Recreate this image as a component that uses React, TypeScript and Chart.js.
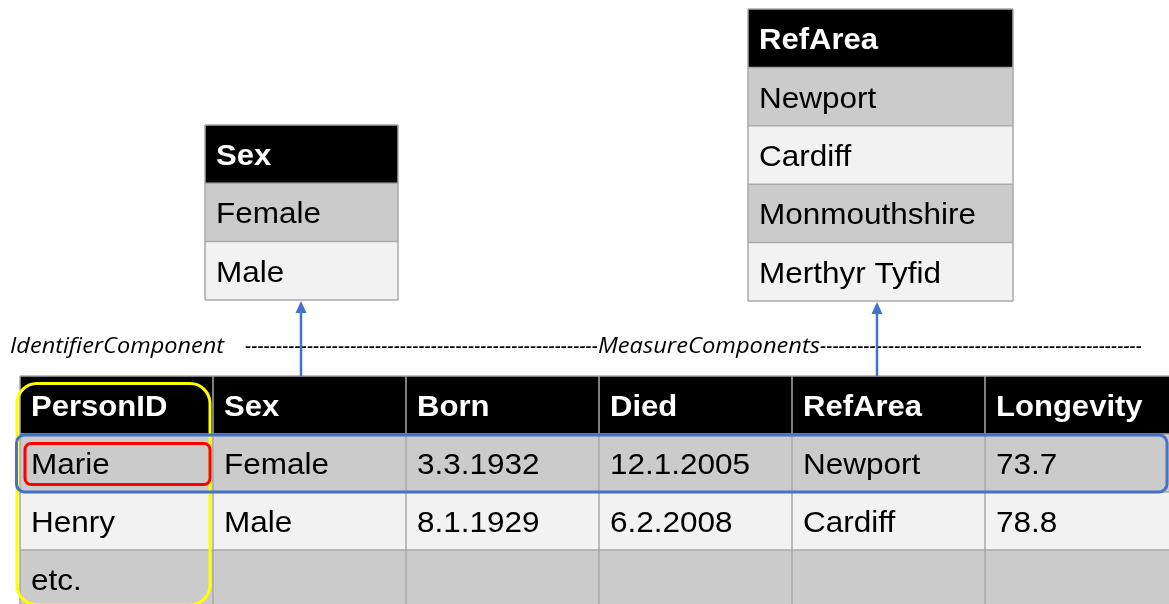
import React, { useEffect, useRef } from 'react';
import { Chart, registerables } from 'chart.js';

Chart.register(...registerables);

const W = 1169;
const H = 604;

// ---- Data ----
const mainColumns = ['PersonID', 'Sex', 'Born', 'Died', 'RefArea', 'Longevity'];
const personIds = ['Marie', 'Henry', 'etc.'];
const sexValues = ['Female', 'Male', ''];
const bornDates = ['3.3.1932', '8.1.1929', ''];
const diedDates = ['12.1.2005', '6.2.2008', ''];
const refAreaValues = ['Newport', 'Cardiff', ''];
const longevityValues = ['73.7', '78.8', ''];

const sexCodelistTitle = 'Sex';
const sexCodes = ['Female', 'Male'];
const refAreaCodelistTitle = 'RefArea';
const refAreaCodes = ['Newport', 'Cardiff', 'Monmouthshire', 'Merthyr Tyfid'];

const identifierLabel = 'IdentifierComponent';
const measureLabel = 'MeasureComponents';

// ---- Layout (positions in scale units) ----
const MAIN = { x: 20, y: 376, colW: 193, rowH: 58 };
const SEX = { x: 205, y: 125, colW: 193, rowH: 58.3 };
const REF = { x: 748, y: 9, colW: 265, rowH: 58.4 };
const ANNOT = { baseline: 353, idX: 10, idW: 214, dash1: [245, 598], mcX: 598, mcW: 222, dash2: [820, 1142] };

const HEADER_FILL = '#000000';
const ROW_FILLS = ['#cbcbcb', '#f2f2f2'];
const GRID = '#a9a9a9';
const BLUE = '#4472c4';
const FONT_FAMILY = '"Liberation Sans", Arial, sans-serif';
const ITALIC_FONT = '"Open Sans", sans-serif';

const tablePlugin = {
  id: 'tableDiagram',
  afterDraw(chart: any) {
    const ctx: CanvasRenderingContext2D = chart.ctx;
    const xs = chart.scales.x;
    const ys = chart.scales.y;
    const X = (v: number) => xs.getPixelForValue(v);
    const Y = (v: number) => ys.getPixelForValue(v);

    const stretchText = (txt: string, x: number, y: number, sx: number) => {
      ctx.save();
      ctx.translate(x, y);
      ctx.scale(sx, 1);
      ctx.fillText(txt, 0, 0);
      ctx.restore();
    };

    const drawTable = (
      t: { x: number; y: number; colW: number; rowH: number },
      headers: string[],
      rows: string[][],
    ) => {
      const nCols = headers.length;
      const nRows = rows.length + 1;
      for (let r = 0; r < nRows; r++) {
        const y0 = Y(t.y + r * t.rowH);
        const y1 = Y(t.y + (r + 1) * t.rowH);
        ctx.fillStyle = r === 0 ? HEADER_FILL : ROW_FILLS[(r - 1) % 2];
        ctx.fillRect(X(t.x), y0, X(t.x + nCols * t.colW) - X(t.x), y1 - y0);
      }
      ctx.strokeStyle = GRID;
      ctx.lineWidth = 1.5;
      for (let r = 0; r <= nRows; r++) {
        const yy = Y(t.y + r * t.rowH);
        ctx.beginPath();
        ctx.moveTo(X(t.x), yy);
        ctx.lineTo(X(t.x + nCols * t.colW), yy);
        ctx.stroke();
      }
      for (let c = 0; c <= nCols; c++) {
        const xx = X(t.x + c * t.colW);
        ctx.beginPath();
        ctx.moveTo(xx, Y(t.y));
        ctx.lineTo(xx, Y(t.y + nRows * t.rowH));
        ctx.stroke();
      }
      ctx.textAlign = 'left';
      ctx.textBaseline = 'alphabetic';
      for (let r = 0; r < nRows; r++) {
        const cells = r === 0 ? headers : rows[r - 1];
        const mid = Y(t.y + (r + 0.5) * t.rowH);
        for (let c = 0; c < nCols; c++) {
          const txt = cells[c];
          if (!txt) continue;
          if (r === 0) {
            ctx.font = `bold 30px ${FONT_FAMILY}`;
            ctx.fillStyle = '#ffffff';
            stretchText(txt, X(t.x + c * t.colW + 11), mid + 11, 1.035);
          } else {
            ctx.font = `30px ${FONT_FAMILY}`;
            ctx.fillStyle = '#000000';
            stretchText(txt, X(t.x + c * t.colW + 11), mid + 11, 1.05);
          }
        }
      }
    };

    ctx.save();

    drawTable(SEX, [sexCodelistTitle], sexCodes.map((s) => [s]));
    drawTable(REF, [refAreaCodelistTitle], refAreaCodes.map((s) => [s]));

    const mainRows = personIds.map((p, i) => [
      p,
      sexValues[i],
      bornDates[i],
      diedDates[i],
      refAreaValues[i],
      longevityValues[i],
    ]);
    drawTable(MAIN, mainColumns, mainRows);

    const rr = (x0: number, y0: number, x1: number, y1: number, r: number, color: string, lw: number) => {
      ctx.beginPath();
      ctx.strokeStyle = color;
      ctx.lineWidth = lw;
      (ctx as any).roundRect(X(x0), Y(y0), X(x1) - X(x0), Y(y1) - Y(y0), r);
      ctx.stroke();
    };
    rr(17, 383.5, 210, 605, 20, '#ffff00', 3);
    rr(16.5, 435, 1167, 492, 8, BLUE, 3);
    rr(25, 443.5, 210, 484.5, 6, '#ff0000', 3);

    // annotation line
    ctx.font = `italic 21px ${ITALIC_FONT}`;
    ctx.fillStyle = '#000000';
    ctx.textAlign = 'left';
    const fitDraw = (txt: string, a: number, b: number) => {
      const span = X(b) - X(a);
      const w = ctx.measureText(txt).width;
      stretchText(txt, X(a), Y(ANNOT.baseline), span / w);
    };
    fitDraw(identifierLabel, ANNOT.idX, ANNOT.idX + ANNOT.idW);
    fitDraw(measureLabel, ANNOT.mcX, ANNOT.mcX + ANNOT.mcW);
    const dashW = ctx.measureText('-').width;
    const drawDashes = (a: number, b: number) => {
      const span = X(b) - X(a);
      const n = Math.max(1, Math.round(span / (dashW * 0.95)));
      fitDraw('-'.repeat(n), a, b);
    };
    drawDashes(ANNOT.dash1[0], ANNOT.dash1[1]);
    drawDashes(ANNOT.dash2[0], ANNOT.dash2[1]);

    const arrow = (x: number, fromY: number, toY: number) => {
      ctx.strokeStyle = BLUE;
      ctx.fillStyle = BLUE;
      ctx.lineWidth = 2.5;
      ctx.beginPath();
      ctx.moveTo(X(x), Y(fromY));
      ctx.lineTo(X(x), Y(toY + 10));
      ctx.stroke();
      ctx.beginPath();
      ctx.moveTo(X(x), Y(toY));
      ctx.lineTo(X(x) - 5.5, Y(toY + 12));
      ctx.lineTo(X(x) + 5.5, Y(toY + 12));
      ctx.closePath();
      ctx.fill();
    };
    arrow(301, MAIN.y, SEX.y + 3 * SEX.rowH + 1);
    arrow(877, MAIN.y, REF.y + 5 * REF.rowH + 1);

    ctx.restore();
  },
};

export default function App() {
  const ref = useRef<HTMLCanvasElement | null>(null);
  useEffect(() => {
    document.body.style.margin = '0';
    const canvas = ref.current;
    if (!canvas) return;
    const chart = new Chart(canvas, {
      type: 'scatter',
      data: { datasets: [{ data: [] }] },
      options: {
        animation: false,
        responsive: false,
        devicePixelRatio: 1,
        layout: { padding: 0 },
        scales: {
          x: { type: 'linear', min: 0, max: W, display: false },
          y: { type: 'linear', min: 0, max: H, reverse: true, display: false },
        },
        plugins: { legend: { display: false }, tooltip: { enabled: false } },
      },
      plugins: [tablePlugin],
    });
    return () => chart.destroy();
  }, []);
  return (
    <div style={{ position: 'absolute', left: 0, top: 0, width: W, height: H, background: '#fff' }}>
      <canvas ref={ref} width={W} height={H} style={{ display: 'block' }} />
    </div>
  );
}
